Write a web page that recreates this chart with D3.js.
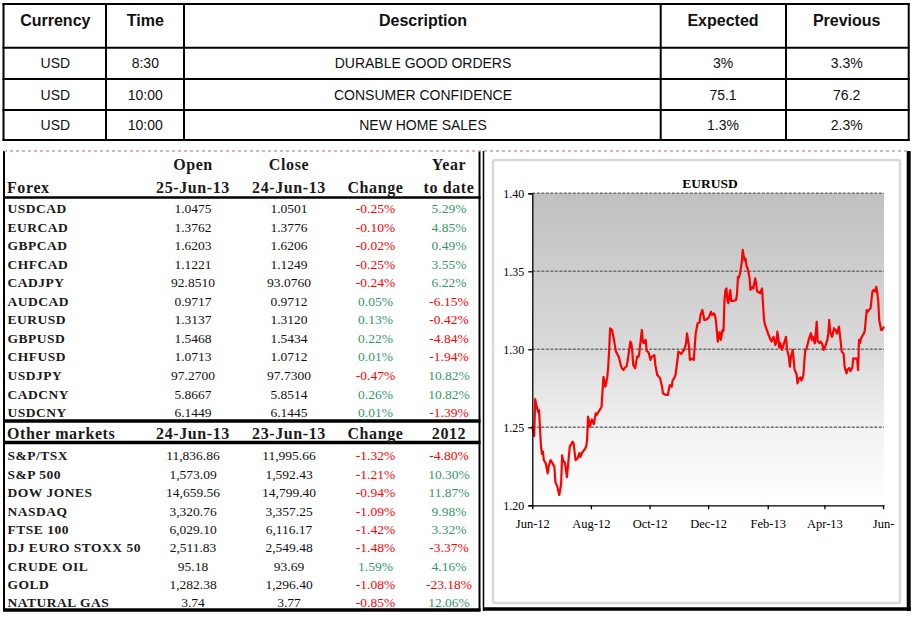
<!DOCTYPE html>
<html><head><meta charset="utf-8">
<script src="https://cdn.jsdelivr.net/npm/d3@7"></script>
<style>html,body{margin:0;padding:0;background:#fff;} svg{display:block;}</style>
</head><body>
<svg id="c" width="914" height="617"></svg>
<script>
// ---------- DATA ----------
const calHeaders = ["Currency","Time","Description","Expected","Previous"];
const calCurrency = ["USD","USD","USD"];
const calTime = ["8:30","10:00","10:00"];
const calDesc = ["DURABLE GOOD ORDERS","CONSUMER CONFIDENCE","NEW HOME SALES"];
const calExpected = ["3%","75.1","1.3%"];
const calPrevious = ["3.3%","76.2","2.3%"];

const forexNames = ["USDCAD","EURCAD","GBPCAD","CHFCAD","CADJPY","AUDCAD","EURUSD","GBPUSD","CHFUSD","USDJPY","CADCNY","USDCNY"];
const forexOpen = ["1.0475","1.3762","1.6203","1.1221","92.8510","0.9717","1.3137","1.5468","1.0713","97.2700","5.8667","6.1449"];
const forexClose = ["1.0501","1.3776","1.6206","1.1249","93.0760","0.9712","1.3120","1.5434","1.0712","97.7300","5.8514","6.1445"];
const forexChange = [-0.25,-0.10,-0.02,-0.25,-0.24,0.05,0.13,0.22,0.01,-0.47,0.26,0.01];
const forexYtd = [5.29,4.85,0.49,3.55,6.22,-6.15,-0.42,-4.84,-1.94,10.82,10.82,-1.39];

const mktNames = ["S&P/TSX","S&P 500","DOW JONES","NASDAQ","FTSE 100","DJ EURO STOXX 50","CRUDE OIL","GOLD","NATURAL GAS"];
const mktLast = ["11,836.86","1,573.09","14,659.56","3,320.76","6,029.10","2,511.83","95.18","1,282.38","3.74"];
const mktPrev = ["11,995.66","1,592.43","14,799.40","3,357.25","6,116.17","2,549.48","93.69","1,296.40","3.77"];
const mktChange = [-1.32,-1.21,-0.94,-1.09,-1.42,-1.48,1.59,-1.08,-0.85];
const mkt2012 = [-4.80,10.30,11.87,9.98,3.32,-3.37,4.16,-23.18,12.06];

const chartTitle = "EURUSD";
const yTicks = [1.20,1.25,1.30,1.35,1.40];
const xTickLabels = ["Jun-12","Aug-12","Oct-12","Dec-12","Feb-13","Apr-13","Jun-"];
const eurusd = [
["2012-06-25",1.2508],["2012-06-26",1.2470],["2012-06-27",1.2444],["2012-06-28",1.2680],["2012-06-29",1.2650],
["2012-07-01",1.2600],["2012-07-02",1.2610],["2012-07-04",1.2380],["2012-07-05",1.2330],["2012-07-06",1.2345],
["2012-07-07",1.2290],["2012-07-09",1.2270],["2012-07-11",1.2205],["2012-07-12",1.2250],["2012-07-14",1.2290],
["2012-07-16",1.2270],["2012-07-18",1.2245],["2012-07-19",1.2150],["2012-07-21",1.2120],["2012-07-23",1.2066],
["2012-07-24",1.2100],["2012-07-25",1.2140],["2012-07-26",1.2320],["2012-07-27",1.2290],["2012-07-29",1.2270],
["2012-07-31",1.2180],["2012-08-03",1.2376],["2012-08-06",1.2408],["2012-08-07",1.2395],["2012-08-09",1.2290],
["2012-08-11",1.2300],["2012-08-13",1.2335],["2012-08-14",1.2310],["2012-08-16",1.2340],["2012-08-18",1.2354],
["2012-08-20",1.2376],["2012-08-21",1.2418],["2012-08-22",1.2568],["2012-08-23",1.2540],["2012-08-24",1.2504],
["2012-08-25",1.2530],["2012-08-26",1.2550],["2012-08-28",1.2520],["2012-08-30",1.2590],["2012-08-31",1.2580],
["2012-09-02",1.2600],["2012-09-05",1.2630],["2012-09-07",1.2824],["2012-09-08",1.2790],["2012-09-09",1.2760],
["2012-09-11",1.2820],["2012-09-12",1.2889],["2012-09-13",1.3000],["2012-09-14",1.3135],["2012-09-15",1.3130],
["2012-09-16",1.3124],["2012-09-18",1.3060],["2012-09-20",1.2985],["2012-09-21",1.2975],["2012-09-23",1.2950],
["2012-09-25",1.2900],["2012-09-26",1.2880],["2012-09-28",1.2867],["2012-09-29",1.2880],["2012-10-01",1.2890],
["2012-10-02",1.2920],["2012-10-03",1.2960],["2012-10-05",1.3049],["2012-10-06",1.3040],["2012-10-07",1.2990],
["2012-10-08",1.2900],["2012-10-10",1.2878],["2012-10-12",1.2953],["2012-10-13",1.2950],["2012-10-14",1.2960],
["2012-10-17",1.3124],["2012-10-18",1.3050],["2012-10-19",1.3040],["2012-10-21",1.3060],["2012-10-22",1.2990],
["2012-10-24",1.2980],["2012-10-26",1.2932],["2012-10-27",1.2950],["2012-10-30",1.2963],["2012-10-31",1.2900],
["2012-11-02",1.2835],["2012-11-03",1.2830],["2012-11-05",1.2814],["2012-11-07",1.2760],["2012-11-08",1.2718],
["2012-11-10",1.2710],["2012-11-13",1.2707],["2012-11-14",1.2740],["2012-11-15",1.2770],["2012-11-17",1.2760],
["2012-11-18",1.2800],["2012-11-20",1.2820],["2012-11-21",1.2835],["2012-11-22",1.2880],["2012-11-24",1.2985],
["2012-11-25",1.2980],["2012-11-27",1.2970],["2012-11-29",1.2990],["2012-11-30",1.2996],["2012-12-02",1.3040],
["2012-12-03",1.3103],["2012-12-05",1.3020],["2012-12-06",1.2932],["2012-12-08",1.2940],["2012-12-10",1.2932],
["2012-12-11",1.3017],["2012-12-12",1.3100],["2012-12-14",1.3167],["2012-12-16",1.3170],["2012-12-17",1.3220],
["2012-12-19",1.3252],["2012-12-20",1.3220],["2012-12-21",1.3188],["2012-12-23",1.3190],["2012-12-25",1.3200],
["2012-12-26",1.3210],["2012-12-28",1.3241],["2012-12-29",1.3220],["2012-12-31",1.3230],["2013-01-01",1.3220],
["2013-01-02",1.3188],["2013-01-04",1.3049],["2013-01-05",1.3090],["2013-01-06",1.3110],["2013-01-07",1.3060],
["2013-01-09",1.3124],["2013-01-10",1.3120],["2013-01-11",1.3317],["2013-01-12",1.3380],["2013-01-13",1.3390],
["2013-01-14",1.3320],["2013-01-15",1.3295],["2013-01-16",1.3340],["2013-01-17",1.3380],["2013-01-18",1.3310],
["2013-01-20",1.3310],["2013-01-23",1.3316],["2013-01-24",1.3350],["2013-01-25",1.3465],["2013-01-26",1.3460],
["2013-01-27",1.3480],["2013-01-29",1.3560],["2013-01-30",1.3637],["2013-01-31",1.3600],["2013-02-01",1.3570],
["2013-02-02",1.3580],["2013-02-03",1.3530],["2013-02-04",1.3520],["2013-02-06",1.3460],["2013-02-07",1.3380],
["2013-02-09",1.3400],["2013-02-10",1.3390],["2013-02-12",1.3455],["2013-02-13",1.3420],["2013-02-14",1.3370],
["2013-02-16",1.3365],["2013-02-17",1.3359],["2013-02-19",1.3390],["2013-02-20",1.3300],["2013-02-21",1.3199],
["2013-02-22",1.3160],["2013-02-24",1.3124],["2013-02-26",1.3090],["2013-02-28",1.3060],["2013-03-01",1.3050],
["2013-03-03",1.3080],["2013-03-05",1.3028],["2013-03-06",1.3050],["2013-03-07",1.3113],["2013-03-08",1.3070],
["2013-03-09",1.3010],["2013-03-10",1.3040],["2013-03-11",1.3020],["2013-03-12",1.2996],["2013-03-14",1.3040],
["2013-03-16",1.3080],["2013-03-17",1.3000],["2013-03-19",1.2950],["2013-03-20",1.2889],["2013-03-21",1.2950],
["2013-03-23",1.2996],["2013-03-24",1.2930],["2013-03-25",1.2867],["2013-03-27",1.2840],["2013-03-28",1.2782],
["2013-03-29",1.2810],["2013-03-31",1.2820],["2013-04-01",1.2800],["2013-04-03",1.2830],["2013-04-05",1.2996],
["2013-04-06",1.3000],["2013-04-07",1.3020],["2013-04-09",1.3070],["2013-04-11",1.3103],["2013-04-12",1.3060],
["2013-04-13",1.3080],["2013-04-15",1.3038],["2013-04-17",1.3177],["2013-04-18",1.3050],["2013-04-20",1.3040],
["2013-04-21",1.3050],["2013-04-23",1.3030],["2013-04-24",1.2996],["2013-04-26",1.3020],["2013-04-28",1.3060],
["2013-04-29",1.3100],["2013-04-30",1.3188],["2013-05-01",1.3110],["2013-05-03",1.3080],["2013-05-05",1.3135],
["2013-05-07",1.3120],["2013-05-08",1.3100],["2013-05-10",1.3145],["2013-05-11",1.3100],["2013-05-13",1.2985],
["2013-05-14",1.2980],["2013-05-15",1.2970],["2013-05-16",1.2889],["2013-05-18",1.2846],["2013-05-19",1.2870],
["2013-05-21",1.2880],["2013-05-22",1.2860],["2013-05-24",1.2880],["2013-05-25",1.2942],["2013-05-27",1.2940],
["2013-05-29",1.2940],["2013-05-30",1.2867],["2013-05-31",1.3060],["2013-06-01",1.3040],["2013-06-02",1.3070],
["2013-06-04",1.3092],["2013-06-05",1.3100],["2013-06-06",1.3120],["2013-06-08",1.3252],["2013-06-09",1.3240],
["2013-06-10",1.3250],["2013-06-12",1.3263],["2013-06-13",1.3320],["2013-06-14",1.3370],["2013-06-15",1.3380],
["2013-06-17",1.3370],["2013-06-18",1.3401],["2013-06-19",1.3360],["2013-06-20",1.3310],["2013-06-21",1.3188],
["2013-06-23",1.3124],["2013-06-24",1.3124],["2013-06-26",1.3145]
];

// ---------- DRAW ----------
const svg = d3.select("#c");
svg.append("rect").attr("width",914).attr("height",617).attr("fill","#fff");
const SANS = "'Liberation Sans', Arial, sans-serif";
const SERIF = "'Liberation Serif', 'Times New Roman', serif";
const RED = "#ff0000", GREEN = "#339966";
const pct = v => v.toFixed(2) + "%";

// ===== Top calendar table =====
const calG = svg.append("g");
const colEdges = [3.5,106,184,660.7,786,908.7];
const rowEdges = [4,47.7,79,110,140];
colEdges.forEach(x => calG.append("line").attr("x1",x).attr("x2",x).attr("y1",rowEdges[0]-1).attr("y2",rowEdges[4]+1)
  .attr("stroke","#000").attr("stroke-width",2));
rowEdges.forEach(y => calG.append("line").attr("x1",colEdges[0]-1).attr("x2",colEdges[5]+1).attr("y1",y).attr("y2",y)
  .attr("stroke","#000").attr("stroke-width",2));
const colCenters = [55.3,145.3,423,723,846.7];
calHeaders.forEach((h,i)=> calG.append("text").attr("x",colCenters[i]).attr("y",20.7).attr("dy","0.36em")
  .attr("text-anchor","middle").attr("font-family",SANS).attr("font-weight","bold").attr("font-size",16).attr("fill","#111").text(h));
const calCols = [calCurrency, calTime, calDesc, calExpected, calPrevious];
const calRowY = [63.3, 95, 125];
calCols.forEach((col,ci)=> col.forEach((v,ri)=> calG.append("text").attr("x",colCenters[ci]).attr("y",calRowY[ri]).attr("dy","0.36em")
  .attr("text-anchor","middle").attr("font-family",SANS).attr("font-size",14).attr("fill","#111").text(v)));

// ===== Bottom-left market table =====
const tb = svg.append("g");
tb.append("line").attr("x1",4).attr("x2",4).attr("y1",151).attr("y2",611).attr("stroke","#000").attr("stroke-width",2);
tb.append("line").attr("x1",479.5).attr("x2",479.5).attr("y1",151).attr("y2",611).attr("stroke","#000").attr("stroke-width",2);
tb.append("line").attr("x1",3).attr("x2",480.5).attr("y1",610).attr("y2",610).attr("stroke","#000").attr("stroke-width",3.5);
tb.append("line").attr("x1",3).attr("x2",480.5).attr("y1",197.5).attr("y2",197.5).attr("stroke","#000").attr("stroke-width",2.5);
tb.append("line").attr("x1",3).attr("x2",480.5).attr("y1",421).attr("y2",421).attr("stroke","#000").attr("stroke-width",3.5);
tb.append("line").attr("x1",3).attr("x2",480.5).attr("y1",442.5).attr("y2",442.5).attr("stroke","#000").attr("stroke-width",3.5);

const cx = {open:193, close:289, chg:375.5, ytd:449};
function hdr(x,y,t,anchor){
  tb.append("text").attr("x",x).attr("y",y).attr("dy","0.36em").attr("text-anchor",anchor||"middle")
    .attr("font-family",SERIF).attr("font-weight","bold").attr("font-size",16).attr("letter-spacing","0.6px")
    .attr("fill","#1a1a1a").text(t);
}
hdr(cx.open,164,"Open"); hdr(cx.close,164,"Close"); hdr(cx.ytd,164,"Year");
hdr(7,187,"Forex","start"); hdr(cx.open,187,"25-Jun-13"); hdr(cx.close,187,"24-Jun-13"); hdr(cx.chg,187,"Change"); hdr(cx.ytd,187,"to date");
hdr(7,433.5,"Other markets","start"); hdr(cx.open,433.5,"24-Jun-13"); hdr(cx.close,433.5,"23-Jun-13"); hdr(cx.chg,433.5,"Change"); hdr(cx.ytd,433.5,"2012");

function rows(names, c1, c2, chg, ytd, y0, y1){
  const ys = d3.scalePoint().domain(names).range([y0,y1]);
  names.forEach((n,i)=>{
    const yy = ys(n);
    tb.append("text").attr("x",7.5).attr("y",yy).attr("dy","0.35em").attr("font-family",SERIF).attr("font-weight","bold")
      .attr("font-size",13.5).attr("letter-spacing","0.5px").attr("fill","#1a1a1a").text(n);
    const cell = (xx,t,col)=> tb.append("text").attr("x",xx).attr("y",yy).attr("dy","0.35em").attr("text-anchor","middle")
      .attr("font-family",SERIF).attr("font-size",13.5).attr("fill",col).text(t);
    cell(cx.open,c1[i],"#111");
    cell(cx.close,c2[i],"#111");
    cell(cx.chg,pct(chg[i]), chg[i]<0?RED:GREEN);
    cell(cx.ytd,pct(ytd[i]), ytd[i]<0?RED:GREEN);
  });
}
rows(forexNames, forexOpen, forexClose, forexChange, forexYtd, 208.7, 412.3);
rows(mktNames, mktLast, mktPrev, mktChange, mkt2012, 455.7, 602.7);

// ===== Chart box =====
const cb = svg.append("g");
cb.append("line").attr("x1",483.5).attr("x2",483.5).attr("y1",151).attr("y2",611).attr("stroke","#000").attr("stroke-width",1.5);
cb.append("line").attr("x1",908.7).attr("x2",908.7).attr("y1",151).attr("y2",611).attr("stroke","#000").attr("stroke-width",4);
cb.append("line").attr("x1",483).attr("x2",910.7).attr("y1",609).attr("y2",609).attr("stroke","#000").attr("stroke-width",3.5);
svg.append("line").attr("x1",4).attr("x2",910).attr("y1",151).attr("y2",151).attr("stroke","#d49a9a")
  .attr("stroke-width",1.5).attr("stroke-dasharray","3,3");
cb.append("rect").attr("x",493).attr("y",160).attr("width",407).attr("height",443).attr("rx",2)
  .attr("fill","#fff").attr("stroke","#d9d9d9").attr("stroke-width",2.5);

const parse = d3.timeParse("%Y-%m-%d");
const series = eurusd.map(d=>({date:parse(d[0]), v:d[1]}));
const x = d3.scaleTime().domain([parse("2012-06-25"), parse("2013-06-26")]).range([532.3, 884]);
const y = d3.scaleLinear().domain([1.20,1.40]).range([505.3,193.3]);

const defs = svg.append("defs");
const grad = defs.append("linearGradient").attr("id","bg").attr("x1",0).attr("y1",0).attr("x2",0).attr("y2",1);
[[0,"#c0c0c0"],[0.5,"#dadada"],[0.75,"#f1f1f1"],[1,"#ffffff"]].forEach(s=>grad.append("stop").attr("offset",s[0]).attr("stop-color",s[1]));
cb.append("rect").attr("x",x.range()[0]).attr("y",y(1.40)).attr("width",x.range()[1]-x.range()[0]).attr("height",y(1.20)-y(1.40))
  .attr("fill","url(#bg)");

cb.append("g").selectAll("line").data(yTicks.filter(t=>t>1.20)).join("line")
  .attr("x1",x.range()[0]).attr("x2",x.range()[1]).attr("y1",d=>y(d)).attr("y2",d=>y(d))
  .attr("stroke","#6e6e6e").attr("stroke-width",1.5).attr("stroke-dasharray","3,1.5");

cb.append("text").attr("x",710).attr("y",183).attr("dy","0.36em").attr("text-anchor","middle")
  .attr("font-family",SERIF).attr("font-weight","bold").attr("font-size",13.5).attr("fill","#000").text(chartTitle);

cb.append("path").datum(series).attr("fill","none").attr("stroke",RED).attr("stroke-width",2.2).attr("stroke-linejoin","round")
  .attr("d", d3.line().x(d=>x(d.date)).y(d=>y(d.v)));

const yAxis = d3.axisLeft(y).tickValues(yTicks).tickFormat(d3.format(".2f")).tickSize(4).tickPadding(4);
const gy = cb.append("g").attr("transform",`translate(${x.range()[0]},0)`).call(yAxis);
gy.select(".domain").attr("stroke","#000").attr("stroke-width",1.3);
gy.selectAll(".tick line").attr("stroke","#000").attr("stroke-width",1.3);
gy.selectAll("text").attr("font-family",SERIF).attr("font-size",12).attr("fill","#000");

const xTickDates = xTickLabels.map((t,i)=> d3.timeMonth.offset(parse("2012-06-25"), 2*i));
const xAxis = d3.axisBottom(x).tickValues(xTickDates).tickFormat((d,i)=>xTickLabels[i]).tickSize(4).tickPadding(10).tickSizeOuter(0);
const gx = cb.append("g").attr("transform",`translate(0,${y(1.20)})`).call(xAxis);
gx.select(".domain").attr("stroke","#000").attr("stroke-width",1.3);
gx.selectAll(".tick line").attr("stroke","#000").attr("stroke-width",1.3);
gx.selectAll("text").attr("font-family",SERIF).attr("font-size",12.5).attr("fill","#000");
</script>
</body></html>
